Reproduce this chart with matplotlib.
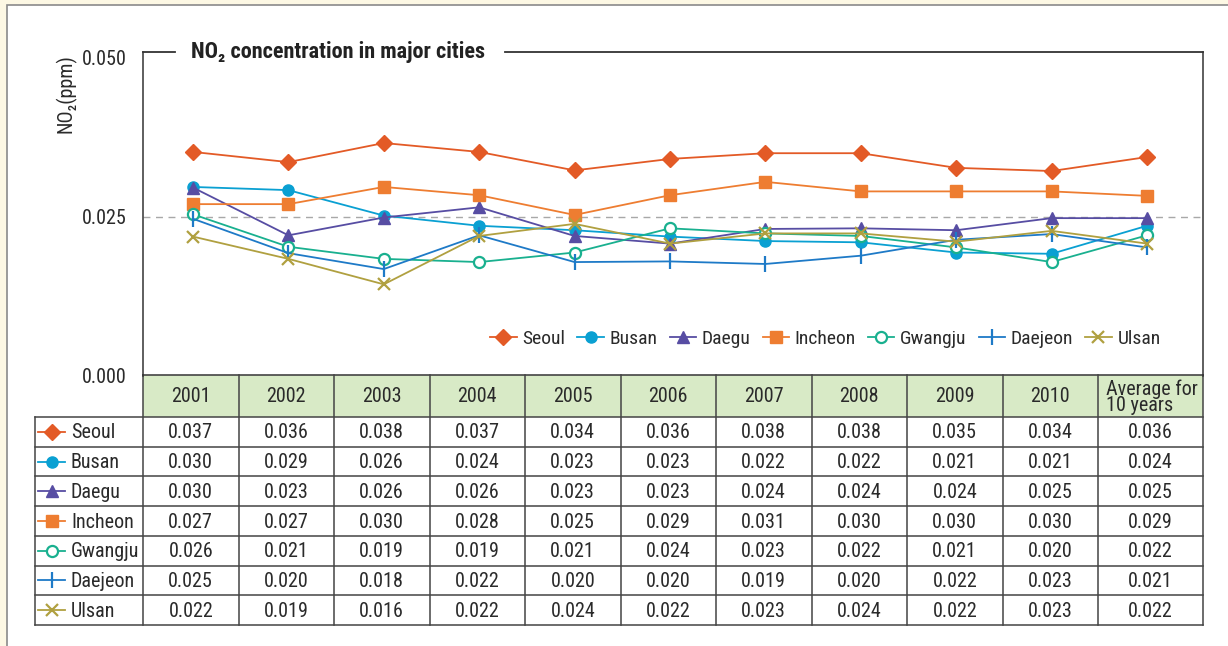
import matplotlib.pyplot as plt
from matplotlib.patches import Rectangle

plt.rcParams['font.family'] = ['Roboto Condensed', 'DejaVu Sans']

cities = ['Seoul', 'Busan', 'Daegu', 'Incheon', 'Gwangju', 'Daejeon', 'Ulsan']
columns = ['2001', '2002', '2003', '2004', '2005', '2006', '2007', '2008', '2009', '2010',
           'Average for\n10 years']

# values printed in the table
seoul = [0.037, 0.036, 0.038, 0.037, 0.034, 0.036, 0.038, 0.038, 0.035, 0.034, 0.036]
busan = [0.030, 0.029, 0.026, 0.024, 0.023, 0.023, 0.022, 0.022, 0.021, 0.021, 0.024]
daegu = [0.030, 0.023, 0.026, 0.026, 0.023, 0.023, 0.024, 0.024, 0.024, 0.025, 0.025]
incheon = [0.027, 0.027, 0.030, 0.028, 0.025, 0.029, 0.031, 0.030, 0.030, 0.030, 0.029]
gwangju = [0.026, 0.021, 0.019, 0.019, 0.021, 0.024, 0.023, 0.022, 0.021, 0.020, 0.022]
daejeon = [0.025, 0.020, 0.018, 0.022, 0.020, 0.020, 0.019, 0.020, 0.022, 0.023, 0.021]
ulsan = [0.022, 0.019, 0.016, 0.022, 0.024, 0.022, 0.023, 0.024, 0.022, 0.023, 0.022]
table_vals = [seoul, busan, daegu, incheon, gwangju, daejeon, ulsan]

# values as drawn in the line chart
seoul_line = [0.0352, 0.0336, 0.0366, 0.0352, 0.0323, 0.0341, 0.0350, 0.0350, 0.0327, 0.0322, 0.0344]
busan_line = [0.0297, 0.0292, 0.0252, 0.0236, 0.0229, 0.0219, 0.0212, 0.0210, 0.0194, 0.0192, 0.0236]
daegu_line = [0.0296, 0.0221, 0.0249, 0.0265, 0.0220, 0.0208, 0.0231, 0.0232, 0.0229, 0.0248, 0.0248]
incheon_line = [0.0270, 0.0270, 0.0297, 0.0284, 0.0253, 0.0284, 0.0305, 0.0290, 0.0290, 0.0290, 0.0283]
gwangju_line = [0.0254, 0.0203, 0.0184, 0.0179, 0.0194, 0.0232, 0.0224, 0.0220, 0.0202, 0.0179, 0.0221]
daejeon_line = [0.0247, 0.0193, 0.0168, 0.0221, 0.0179, 0.0180, 0.0176, 0.0189, 0.0214, 0.0223, 0.0202]
ulsan_line = [0.0219, 0.0184, 0.0144, 0.0220, 0.0239, 0.0208, 0.0224, 0.0224, 0.0211, 0.0228, 0.0208]
line_vals = [seoul_line, busan_line, daegu_line, incheon_line, gwangju_line, daejeon_line, ulsan_line]

colors = ['#e35a26', '#0aa0d2', '#574da3', '#ee7d31', '#19b08f', '#1e7ac7', '#b0a040']
markers = ['D', 'o', '^', 's', 'o', '|', 'x']
msizes = [8, 8, 8.5, 8, 8, 11, 8]
filled = [True, True, True, True, False, True, True]


def mark_style(i):
    c, m = colors[i], markers[i]
    thin = m in ('|', 'x') or not filled[i]
    return dict(color=c, marker=m, ms=msizes[i], mfc=c if filled[i] else 'white', mec=c,
                mew=1.6 if thin else 1)


W, H = 1228, 646
fig = plt.figure(figsize=(W / 100, H / 100), dpi=100, facecolor='#fdf8e4')

# page frame (pixel coordinates)
bg = fig.add_axes([0, 0, 1, 1])
bg.set_xlim(0, W)
bg.set_ylim(H, 0)
bg.axis('off')
bg.add_patch(Rectangle((6.5, 4.5), W, H, facecolor='white', edgecolor='#8a8a8a', lw=1.2))

# main chart
px_l, px_r, px_t, px_b = 143, 1203, 52, 376
ax = fig.add_axes([px_l / W, 1 - px_b / H, (px_r - px_l) / W, (px_b - px_t) / H])
ax.set_facecolor('none')
xs = list(range(len(columns)))
for i, (name, vals) in enumerate(zip(cities, line_vals)):
    ax.plot(xs, vals, lw=1.3, label=name, zorder=3, **mark_style(i))
ax.axhline(0.025, color='#a8a8a8', lw=1, ls=(0, (5, 4)), zorder=1)
ax.set_xlim(-0.524, 10.587)
ax.set_ylim(0, 0.0509)
ax.set_xticks([])
ax.set_yticks([0, 0.025, 0.050])
ax.set_yticklabels(['0.000', '0.025', '0.050'])
ax.tick_params(axis='y', length=0, pad=12, labelsize=14.5, labelcolor='#2a2a2a')
for s in ['left', 'right']:
    ax.spines[s].set_color('#333333')
    ax.spines[s].set_linewidth(1.1)
ax.spines['bottom'].set_visible(False)
ax.spines['top'].set_visible(False)
# top border with gap for title
ax.plot([-0.524, -0.19], [0.0509, 0.0509], color='#333333', lw=1.3, clip_on=False)
ax.plot([3.27, 10.587], [0.0509, 0.0509], color='#333333', lw=1.3, clip_on=False)
fig.text(191 / W, 1 - 52 / H, 'NO₂ concentration in major cities', fontsize=16, fontweight='bold',
         color='#222222', va='center', ha='left')
fig.text(66 / W, 1 - 94 / H, 'NO₂(ppm)', rotation=90, fontsize=14.5, color='#2a2a2a',
         ha='center', va='center')

ax.legend(loc='center right', bbox_to_anchor=(0.96, 0.115), ncol=7, frameon=False,
          fontsize=14, handlelength=1.35, handletextpad=0.3, columnspacing=0.62,
          borderaxespad=0, borderpad=0, labelcolor='#2a2a2a')

# table (pixel coordinates)
x_edges = [35, 143] + [143 + 95.5 * (i + 1) for i in range(10)] + [1203]
head_top, head_bot = 375, 417
row_h = (625 - head_bot) / len(cities)
grid_c = '#444444'

bg.add_patch(Rectangle((x_edges[1], head_top), x_edges[-1] - x_edges[1], head_bot - head_top,
                       facecolor='#d8eac6', edgecolor='none', zorder=1))
bg.plot([x_edges[1], x_edges[-1]], [head_top, head_top], color=grid_c, lw=1.2, zorder=2)
for xe in x_edges[1:]:
    bg.plot([xe, xe], [head_top, 625], color=grid_c, lw=1.1, zorder=2)
bg.plot([x_edges[0], x_edges[0]], [head_bot, 625], color=grid_c, lw=1.1, zorder=2)
for r in range(len(cities) + 1):
    y = head_bot + r * row_h
    bg.plot([x_edges[0], x_edges[-1]], [y, y], color=grid_c, lw=1.1, zorder=2)

for j, col in enumerate(columns):
    cx = (x_edges[j + 1] + x_edges[j + 2]) / 2
    if '\n' in col:
        bg.text(x_edges[j + 1] + 8, (head_top + head_bot) / 2 + 1, col, fontsize=14.5,
                color='#2a2a2a', ha='left', va='center', linespacing=0.8)
    else:
        bg.text(cx, (head_top + head_bot) / 2 + 1, col, fontsize=14.5, color='#2a2a2a',
                ha='center', va='center')

for i, (name, vals) in enumerate(zip(cities, table_vals)):
    cy = head_bot + (i + 0.5) * row_h
    bg.plot([38, 65], [cy, cy], color=colors[i], lw=1.3, zorder=3)
    bg.plot([51.5], [cy], zorder=4, **mark_style(i))
    bg.text(71, cy + 1, name, fontsize=14.5, color='#2a2a2a', ha='left', va='center')
    for j, v in enumerate(vals):
        cx = (x_edges[j + 1] + x_edges[j + 2]) / 2
        bg.text(cx, cy + 1, f'{v:.3f}', fontsize=14.5, color='#2a2a2a', ha='center', va='center')

fig.savefig('out.png', dpi=100, facecolor=fig.get_facecolor())
